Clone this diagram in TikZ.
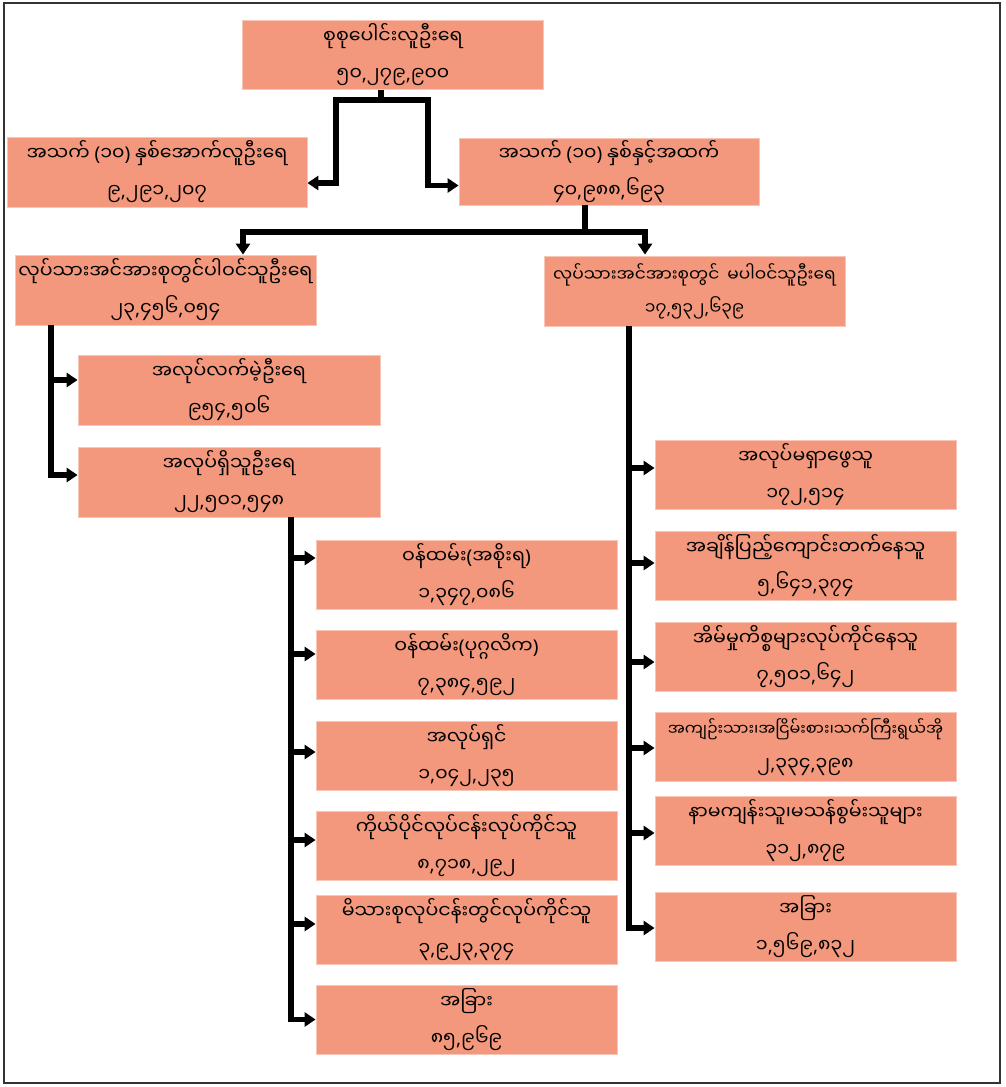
\documentclass[tikz,border=0pt]{standalone}
\usepackage{fontspec}
\newfontfamily\mya[Script=Myanmar]{Noto Sans Myanmar UI}
\newfontfamily\lat{Noto Sans}
\newcommand\cma{{\lat,}}
\newcommand\mylp{{\lat(}}
\newcommand\myrp{{\lat)}}
\usetikzlibrary{arrows.meta}
\definecolor{boxc}{HTML}{F3987C}
\begin{document}
\begin{tikzpicture}[x=1pt,y=-1pt,
  box/.style={fill=boxc, draw=boxc!55!white, line width=0.8pt, minimum width=301pt, minimum height=69pt,
    inner sep=0pt, align=center, font=\mya\fontsize{19}{37}\selectfont},
  conn/.style={line width=5.5pt, black},
  arr/.style={conn, -{Triangle[length=11pt,width=14pt]}},
  arrtwo/.style={conn, {Triangle[length=11pt,width=14pt]}-{Triangle[length=11pt,width=14pt]}}]
\useasboundingbox (0,0) rectangle (1005,1087);
\fill[white] (0,0) rectangle (1005,1087);
\draw[line width=1.2pt, black!80] (4,3) rectangle (1000,1083);

% nodes
\node[box] (b0) at (393,55) {စုစုပေါင်းလူဦးရေ\\၅၀\cma၂၇၉\cma၉၀၀};
\node[box, minimum width=300pt, minimum height=70pt] (b1) at (157,172) {အသက် \mylp၁၀\myrp\ နှစ်အောက်လူဦးရေ\\၉\cma၂၉၁\cma၂၀၇};
\node[box, minimum width=300pt, minimum height=67pt] (b2) at (609,171.5) {အသက် \mylp၁၀\myrp\ နှစ်နှင့်အထက်\\၄၀\cma၉၈၈\cma၆၉၃};
\node[box, minimum height=70pt] (b3) at (165.5,290) {လုပ်သားအင်အားစုတွင်ပါဝင်သူဦးရေ\\၂၃\cma၄၅၆\cma၀၅၄};
\node[box, minimum height=70pt, font=\mya\fontsize{17}{33}\selectfont] (b4) at (694.5,291) {လုပ်သားအင်အားစုတွင်\hspace{8pt}မပါဝင်သူဦးရေ\\၁၇\cma၅၃၂\cma၆၃၉};
\node[box, minimum width=302pt, minimum height=70pt] (b5) at (229,390) {အလုပ်လက်မဲ့ဦးရေ\\၉၅၄\cma၅၀၆};
\node[box, minimum width=302pt, minimum height=70pt] (b6) at (229,482) {အလုပ်ရှိသူဦးရေ\\၂၂\cma၅၀၁\cma၅၄၈};

\node[box] (e1) at (466.5,574.5) {ဝန်ထမ်း\mylp အစိုးရ\myrp\\၁\cma၃၄၇\cma၀၈၆};
\node[box] (e2) at (466.5,665) {ဝန်ထမ်း\mylp ပုဂ္ဂလိက\myrp\\၇\cma၃၈၄\cma၅၉၂};
\node[box] (e3) at (466.5,756) {အလုပ်ရှင်\\၁\cma၀၄၂\cma၂၃၅};
\node[box] (e4) at (466.5,845.5) {ကိုယ်ပိုင်လုပ်ငန်းလုပ်ကိုင်သူ\\၈\cma၇၁၈\cma၂၉၂};
\node[box] (e5) at (466.5,930) {မိသားစုလုပ်ငန်းတွင်လုပ်ကိုင်သူ\\၃\cma၉၂၃\cma၃၇၄};
\node[box] (e6) at (466.5,1019.5) {အခြား\\၈၅\cma၉၆၉};

\node[box] (r1) at (805.5,475) {အလုပ်မရှာဖွေသူ\\၁၇၂\cma၅၁၄};
\node[box] (r2) at (805.5,566) {အချိန်ပြည့်ကျောင်းတက်နေသူ\\၅\cma၆၄၁\cma၃၇၄};
\node[box] (r3) at (805.5,657) {အိမ်မှုကိစ္စများလုပ်ကိုင်နေသူ\\၇\cma၅၀၁\cma၆၄၂};
\node[box, font=\mya\fontsize{16}{35}\selectfont] (r4) at (805.5,747) {အကျဉ်းသား၊အငြိမ်းစား၊သက်ကြီးရွယ်အို\\{\fontsize{19}{37}\selectfont ၂\cma၃၃၄\cma၃၉၈}};
\node[box] (r5) at (805.5,831) {နာမကျန်းသူ၊မသန်စွမ်းသူများ\\၃၁၂\cma၈၇၉};
\node[box] (r6) at (805.5,927) {အခြား\\၁\cma၅၆၉\cma၈၃၂};

% level 1 connectors
\coordinate (s0) at (381,100);
\coordinate (cL) at (336,100);
\coordinate (cR) at (428,100);
\draw[conn] (s0 |- b0.south) -- (s0);
\draw[arrtwo] ([yshift=-11pt]b1.east) -| (cL) -- (cR) |- ([yshift=-14pt]b2.west);

% level 2 connectors
\coordinate (s2) at (585,232);
\coordinate (d3) at (243,232);
\coordinate (d4) at (645,232);
\draw[conn] (s2 |- b2.south) -- (s2);
\draw[arrtwo] (d3 |- b3.north) -- (d3) -- (d4) -- (d4 |- b3.north);

% labour force branch
\coordinate (v3) at (51,0);
\coordinate (t5) at ([yshift=10pt]b5.west);
\coordinate (t6) at ([yshift=7pt]b6.west);
\draw[arr] (v3 |- b3.south) |- (t6);
\draw[arr] (v3 |- t5) -- (t5);

% employed branch
\coordinate (v6) at (291,0);
\coordinate (te1) at ([yshift=16.5pt]e1.west);
\coordinate (te2) at ([yshift=11pt]e2.west);
\coordinate (te3) at ([yshift=4pt]e3.west);
\coordinate (te4) at ([yshift=5.5pt]e4.west);
\coordinate (te5) at ([yshift=6pt]e5.west);
\coordinate (te6) at ([yshift=0pt]e6.west);
\draw[arr] (v6 |- b6.south) |- (te6);
\foreach \t in {te1,te2,te3,te4,te5}{\draw[arr] (v6 |- \t) -- (\t);}

% not in labour force branch
\coordinate (v4) at (629,0);
\coordinate (tr1) at ([yshift=7pt]r1.west);
\coordinate (tr2) at ([yshift=3pt]r2.west);
\coordinate (tr3) at ([yshift=-5pt]r3.west);
\coordinate (tr4) at ([yshift=-1pt]r4.west);
\coordinate (tr5) at ([yshift=-2pt]r5.west);
\coordinate (tr6) at ([yshift=-1pt]r6.west);
\draw[arr] (v4 |- b4.south) |- (tr6);
\foreach \t in {tr1,tr2,tr3,tr4,tr5}{\draw[arr] (v4 |- \t) -- (\t);}
\end{tikzpicture}
\end{document}
